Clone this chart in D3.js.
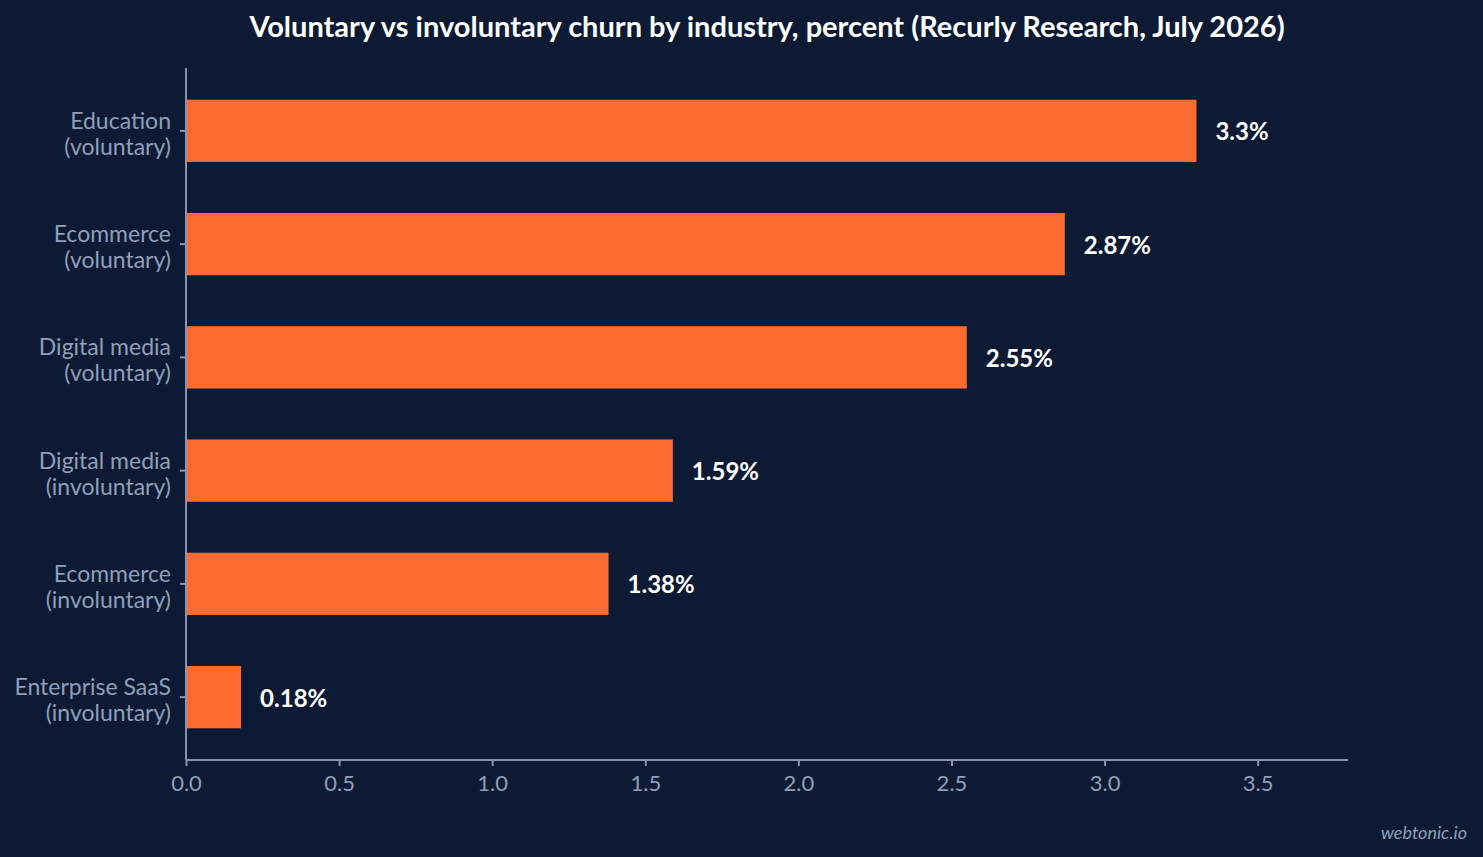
<!DOCTYPE html>
<html>
<head>
<meta charset="utf-8">
<script src="https://cdn.jsdelivr.net/npm/d3@7"></script>
<style>
	html, body { margin: 0; padding: 0; background: #0c1b33; width: 100%; height: 100%; overflow: hidden; }
	#chart { width: 1483px; height: 857px; }
</style>
</head>
<body>
<div id="chart"></div>
<script>
//data
const categories = [
	['Education', '(voluntary)'],
	['Ecommerce', '(voluntary)'],
	['Digital media', '(voluntary)'],
	['Digital media', '(involuntary)'],
	['Ecommerce', '(involuntary)'],
	['Enterprise SaaS', '(involuntary)'],
];
const values = [3.3, 2.87, 2.55, 1.59, 1.38, 0.18];
const xTicks = [0, 0.5, 1, 1.5, 2, 2.5, 3, 3.5];
const title = 'Voluntary vs involuntary churn by industry, percent (Recurly Research, July 2026)';

render();

function render() {
	let props = {
		width: 1483,
		height: 857,
		margin: { top: 68, right: 135, bottom: 97, left: 186 },
		bgColor: '#0c1b33',
		barColor: '#ff6b2f',
		axisColor: '#8496b3',
		labelColor: '#8f9fba',
		fontFamily: 'Lato, "Open Sans", sans-serif',
	};
	createVisualization(d3.select('#chart'), props);
}

function createVisualization(container, props) {
	let { width, height, margin, bgColor, barColor, axisColor, labelColor, fontFamily } = props;

	const svg = container
		.append('svg')
		.attr('width', width)
		.attr('height', height)
		.style('background', bgColor)
		.attr('font-family', fontFamily);

	const x = d3
		.scaleLinear()
		.domain([0, d3.max(values) * 1.15])
		.range([margin.left, width - margin.right]);

	const y = d3
		.scaleBand()
		.domain(d3.range(values.length))
		.range([margin.top, height - margin.bottom])
		.paddingInner(0.45)
		.paddingOuter(0.28);

	//title
	svg
		.append('text')
		.attr('x', (margin.left + width - margin.right) / 2)
		.attr('y', 37)
		.attr('text-anchor', 'middle')
		.attr('fill', '#ffffff')
		.attr('font-size', 29)
		.attr('font-weight', 'bold')
		.text(title);

	//bars
	svg
		.append('g')
		.selectAll('rect')
		.data(values)
		.join('rect')
		.attr('x', x(0))
		.attr('y', (d, i) => y(i))
		.attr('width', (d) => x(d) - x(0))
		.attr('height', y.bandwidth())
		.attr('fill', barColor);

	svg
		.append('g')
		.selectAll('text')
		.data(values)
		.join('text')
		.attr('x', (d) => x(d) + 19)
		.attr('y', (d, i) => y(i) + y.bandwidth() / 2)
		.attr('dominant-baseline', 'central')
		.attr('fill', '#ffffff')
		.attr('font-size', 24)
		.attr('font-weight', 'bold')
		.text((d) => `${d}%`);

	//x axis
	const xAxis = svg
		.append('g')
		.attr('transform', translation(0, height - margin.bottom))
		.call(d3.axisBottom(x).tickValues(xTicks).tickFormat(d3.format('.1f')).tickSizeOuter(0).tickSize(6).tickPadding(9));
	xAxis.select('.domain').remove();
	xAxis
		.append('line')
		.attr('x1', x.range()[0])
		.attr('x2', x.range()[1])
		.attr('stroke', axisColor)
		.attr('stroke-width', 2);
	xAxis.selectAll('.tick line').attr('stroke', axisColor).attr('stroke-width', 2);
	xAxis
		.selectAll('.tick text')
		.attr('fill', labelColor)
		.attr('font-size', 22)
		.attr('font-family', fontFamily);

	//y axis
	const yAxis = svg
		.append('g')
		.attr('transform', translation(margin.left, 0))
		.call(d3.axisLeft(y).tickSizeOuter(0).tickSize(6).tickFormat(''));
	yAxis.select('.domain').remove();
	yAxis
		.append('line')
		.attr('y1', y.range()[0])
		.attr('y2', y.range()[1])
		.attr('stroke', axisColor)
		.attr('stroke-width', 2);
	yAxis.selectAll('.tick line').attr('stroke', axisColor).attr('stroke-width', 2);
	yAxis
		.selectAll('.tick')
		.append('text')
		.attr('x', -15)
		.attr('text-anchor', 'end')
		.attr('fill', labelColor)
		.attr('font-size', 23)
		.attr('font-family', fontFamily)
		.selectAll('tspan')
		.data((d) => categories[d])
		.join('tspan')
		.attr('x', -15)
		.attr('y', (d, i) => (i === 0 ? -2 : 24))
		.text((d) => d);

	//credit
	svg
		.append('text')
		.attr('x', width - 16)
		.attr('y', 839)
		.attr('text-anchor', 'end')
		.attr('fill', labelColor)
		.attr('font-size', 18)
		.attr('font-style', 'italic')
		.text('webtonic.io');
}

//utils
function translation(x, y) {
	return `translate(${x}, ${y})`;
}
</script>
</body>
</html>
